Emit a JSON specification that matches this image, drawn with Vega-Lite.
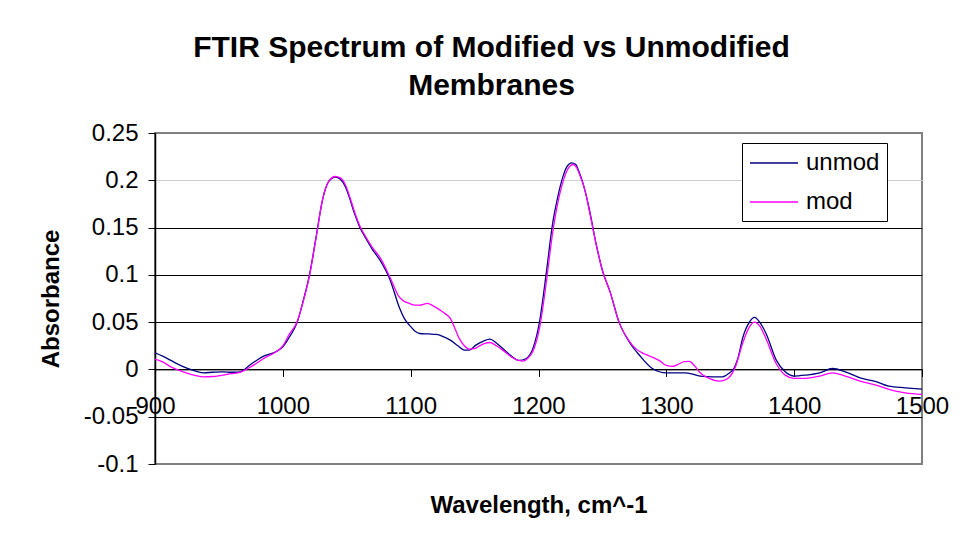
{
  "$schema": "https://vega.github.io/schema/vega-lite/v6.json",
  "width": 767,
  "height": 331,
  "autosize": {"type": "none"},
  "padding": {"left": 155, "top": 133, "right": 41, "bottom": 78},
  "background": "white",
  "title": {
    "text": ["FTIR Spectrum of Modified vs Unmodified", "Membranes"],
    "font": "Liberation Sans",
    "fontSize": 30,
    "fontWeight": "bold",
    "color": "#000",
    "lineHeight": 38,
    "anchor": "middle",
    "frame": "group",
    "dx": -47,
    "offset": 20
  },
  "config": {
    "font": "Liberation Sans",
    "view": {"stroke": "#808080", "strokeWidth": 2}
  },
  "datasets": {
    "unmod": [
      [900,0.0175],[906,0.014],[912,0.0098],[922,0.003],[930,-0.001],[938,-0.0036],[945,-0.003],[953,-0.0025],[960,-0.003],[965,-0.003],[970,0.0],[974,0.0045],[980,0.010],[985,0.014],[995,0.019],[1000,0.024],[1005,0.034],[1011,0.049],[1016,0.073],[1021,0.101],[1026,0.140],[1031,0.179],[1036,0.199],[1041,0.2035],[1045,0.201],[1049,0.193],[1052,0.182],[1056,0.165],[1060,0.151],[1065,0.1385],[1070,0.127],[1076,0.1155],[1084,0.0944],[1091,0.066],[1095,0.054],[1099,0.0468],[1103,0.041],[1107,0.038],[1114,0.0375],[1120,0.037],[1125,0.035],[1131,0.031],[1137,0.025],[1142,0.0204],[1146,0.0205],[1151,0.0257],[1157,0.030],[1162,0.032],[1167,0.028],[1172,0.0222],[1178,0.015],[1185,0.0095],[1190,0.0113],[1196,0.0236],[1201,0.052],[1206,0.101],[1211,0.154],[1215,0.182],[1219,0.2033],[1222,0.214],[1226,0.2185],[1229,0.217],[1232,0.208],[1235,0.196],[1240,0.168],[1245,0.133],[1250,0.1046],[1256,0.082],[1263,0.050],[1271,0.029],[1279,0.015],[1289,0.001],[1300,-0.0036],[1315,-0.0036],[1328,-0.0074],[1336,-0.0078],[1344,-0.0078],[1350,-0.003],[1352,-0.0007],[1356,0.012],[1360,0.0345],[1365,0.050],[1369,0.055],[1373,0.050],[1378,0.038],[1386,0.0098],[1393,-0.0025],[1400,-0.007],[1409,-0.006],[1420,-0.0036],[1430,0.001],[1440,-0.0025],[1453,-0.0095],[1464,-0.013],[1474,-0.0177],[1487,-0.0194],[1500,-0.0208]
    ],
    "mod": [
      [900,0.011],[906,0.008],[912,0.003],[922,-0.0025],[932,-0.0065],[938,-0.0078],[945,-0.0075],[953,-0.006],[960,-0.0045],[965,-0.0036],[970,-0.001],[974,0.002],[980,0.007],[985,0.0116],[995,0.019],[1000,0.025],[1005,0.037],[1011,0.050],[1016,0.072],[1021,0.100],[1026,0.139],[1031,0.179],[1036,0.199],[1041,0.204],[1045,0.2025],[1049,0.195],[1052,0.184],[1056,0.167],[1060,0.1525],[1065,0.140],[1070,0.129],[1076,0.1184],[1084,0.097],[1091,0.0767],[1095,0.072],[1099,0.0698],[1103,0.068],[1107,0.068],[1113,0.0698],[1118,0.067],[1123,0.0627],[1127,0.059],[1131,0.054],[1135,0.042],[1138,0.0328],[1142,0.025],[1146,0.0215],[1150,0.022],[1154,0.025],[1158,0.0275],[1162,0.0285],[1167,0.025],[1172,0.0204],[1178,0.014],[1185,0.0093],[1188,0.0088],[1191,0.011],[1196,0.0204],[1201,0.045],[1206,0.091],[1211,0.144],[1216,0.182],[1220,0.202],[1223,0.212],[1227,0.2167],[1230,0.213],[1232,0.2068],[1237,0.186],[1240,0.166],[1245,0.133],[1250,0.1046],[1256,0.082],[1263,0.050],[1271,0.030],[1276,0.022],[1282,0.017],[1289,0.013],[1295,0.009],[1300,0.0042],[1305,0.0032],[1310,0.006],[1314,0.0082],[1318,0.0085],[1322,0.004],[1326,-0.003],[1334,-0.0098],[1341,-0.0124],[1346,-0.011],[1349,-0.0085],[1354,0.0027],[1360,0.029],[1365,0.045],[1369,0.050],[1373,0.046],[1378,0.0325],[1386,0.006],[1393,-0.006],[1400,-0.0095],[1409,-0.0095],[1420,-0.007],[1430,-0.0036],[1440,-0.007],[1453,-0.013],[1464,-0.0166],[1474,-0.021],[1487,-0.0247],[1500,-0.0264]
    ]
  },
  "layer": [
    {
      "data": {"name": "unmod"},
      "transform": [
        {"calculate": "datum[0]", "as": "wavelength"},
        {"calculate": "datum[1]", "as": "absorbance"},
        {"calculate": "'unmod'", "as": "series"}
      ],
      "mark": {"type": "line", "interpolate": "monotone", "strokeWidth": 1.3, "clip": true},
      "encoding": {
        "x": {"field": "wavelength", "type": "quantitative"},
        "y": {"field": "absorbance", "type": "quantitative"},
        "color": {"field": "series", "type": "nominal"}
      }
    },
    {
      "data": {"name": "mod"},
      "transform": [
        {"calculate": "datum[0]", "as": "wavelength"},
        {"calculate": "datum[1]", "as": "absorbance"},
        {"calculate": "'mod'", "as": "series"}
      ],
      "mark": {"type": "line", "interpolate": "monotone", "strokeWidth": 1.3, "clip": true},
      "encoding": {
        "x": {"field": "wavelength", "type": "quantitative"},
        "y": {"field": "absorbance", "type": "quantitative"},
        "color": {"field": "series", "type": "nominal"}
      }
    }
  ],
  "resolve": {"scale": {"x": "shared", "y": "shared", "color": "shared"}},
  "encoding": {
    "x": {
      "field": "wavelength",
      "type": "quantitative",
      "scale": {"domain": [900, 1500], "nice": false, "zero": false},
      "axis": {
        "title": "Wavelength, cm^-1",
        "values": [900, 1000, 1100, 1200, 1300, 1400, 1500],
        "format": "d",
        "grid": false,
        "offset": -94.6,
        "domainColor": "#000",
        "domainWidth": 1,
        "tickColor": "#000",
        "tickSize": 7,
        "labelFontSize": 24,
        "labelColor": "#000",
        "labelPadding": 18,
        "labelFlush": false,
        "labelOverlap": false,
        "titleFontSize": 24,
        "titleFontWeight": "bold",
        "titleColor": "#000",
        "titleX": 383.5,
        "titleY": 143,
        "titleBaseline": "alphabetic"
      }
    },
    "y": {
      "field": "absorbance",
      "type": "quantitative",
      "scale": {"domain": [-0.1, 0.25], "nice": false, "zero": false},
      "axis": {
        "title": "Absorbance",
        "values": [-0.1, -0.05, 0, 0.05, 0.1, 0.15, 0.2, 0.25],
        "labelExpr": "'' + datum.value",
        "grid": true,
        "gridColor": {
          "condition": [
            {"test": "datum.value == 0.25 || datum.value == -0.1", "value": "#808080"},
            {"test": "datum.value == 0.2", "value": "#d0d0d0"}
          ],
          "value": "#000"
        },
        "gridWidth": 1,
        "domainColor": "#000",
        "domainWidth": 1.5,
        "tickColor": "#000",
        "tickSize": 7,
        "labelFontSize": 24,
        "labelColor": "#000",
        "labelPadding": 10,
        "labelFlush": false,
        "labelOverlap": false,
        "titleFontSize": 24,
        "titleFontWeight": "bold",
        "titleColor": "#000",
        "titleAngle": -90,
        "titleX": -97,
        "titleY": 165.5,
        "titleBaseline": "alphabetic",
        "titleAlign": "center"
      }
    },
    "color": {
      "field": "series",
      "type": "nominal",
      "scale": {"domain": ["unmod", "mod"], "range": ["#000080", "#FF00FF"]},
      "legend": {
        "title": null,
        "orient": "none",
        "legendX": 587,
        "legendY": 10,
        "strokeColor": "#000",
        "fillColor": "#fff",
        "padding": 7,
        "symbolType": "M-2,0H2",
        "symbolSize": 576,
        "symbolOffset": 12,
        "symbolStrokeWidth": 1.5,
        "labelFontSize": 24,
        "labelColor": "#000",
        "labelOffset": 19,
        "rowPadding": 14
      }
    }
  }
}
